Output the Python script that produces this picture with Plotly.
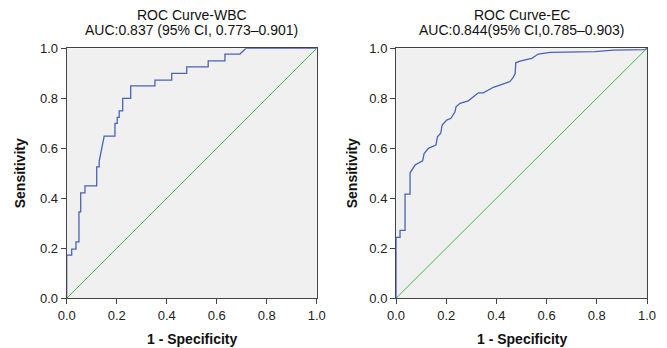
import plotly.graph_objects as go

# ---- data ----
wbc_fpr = [0, 0, 0.02, 0.02, 0.037, 0.037, 0.049, 0.049, 0.056, 0.056, 0.073, 0.073, 0.12, 0.12,
           0.13, 0.13, 0.15, 0.193, 0.193, 0.202, 0.202, 0.21, 0.21, 0.224, 0.224, 0.256, 0.256,
           0.353, 0.353, 0.42, 0.42, 0.48, 0.48, 0.566, 0.566, 0.633, 0.633, 0.693, 0.717, 1.0]
wbc_tpr = [0, 0.173, 0.173, 0.197, 0.197, 0.226, 0.226, 0.346, 0.346, 0.422, 0.422, 0.45, 0.45, 0.526,
           0.526, 0.549, 0.649, 0.649, 0.70, 0.70, 0.724, 0.724, 0.75, 0.75, 0.80, 0.80, 0.85,
           0.85, 0.873, 0.873, 0.90, 0.90, 0.926, 0.926, 0.95, 0.95, 0.977, 0.977, 1.0, 1.0]

ec_fpr = [0, 0, 0.016, 0.016, 0.036, 0.036, 0.056, 0.056, 0.076, 0.106, 0.112, 0.129, 0.159, 0.165,
          0.178, 0.184, 0.202, 0.219, 0.235, 0.239, 0.255, 0.288, 0.328, 0.348, 0.388, 0.454,
          0.467, 0.475, 0.477, 0.494, 0.541, 0.567, 0.614, 0.793, 0.866, 0.99, 1.0]
ec_tpr = [0, 0.244, 0.244, 0.272, 0.272, 0.417, 0.417, 0.502, 0.533, 0.55, 0.579, 0.60, 0.613, 0.646,
          0.66, 0.693, 0.713, 0.72, 0.746, 0.766, 0.78, 0.79, 0.822, 0.822, 0.844, 0.867,
          0.884, 0.90, 0.942, 0.949, 0.96, 0.977, 0.984, 0.987, 0.993, 0.995, 1.0]

ref_line = [0, 1]
tick_vals = [0, 0.2, 0.4, 0.6, 0.8, 1.0]
tick_text = ["0.0", "0.2", "0.4", "0.6", "0.8", "1.0"]

titles = [("ROC Curve-WBC", "AUC:0.837 (95% CI, 0.773\u20130.901)"),
          ("ROC Curve-EC", "AUC:0.844(95% CI,0.785\u20130.903)")]

BLUE = "#4a63b5"
GREEN = "#3dbb4a"
FONT = "Liberation Sans, Arial, sans-serif"

fig = go.Figure()
panels = [(wbc_fpr, wbc_tpr, "x", "y"), (ec_fpr, ec_tpr, "x2", "y2")]
for fx, ty, xa, ya in panels:
    fig.add_trace(go.Scatter(x=ref_line, y=ref_line, mode="lines", xaxis=xa, yaxis=ya,
                             line=dict(color=GREEN, width=1), showlegend=False, hoverinfo="skip"))
    fig.add_trace(go.Scatter(x=fx, y=ty, mode="lines", xaxis=xa, yaxis=ya,
                             line=dict(color=BLUE, width=1.3), showlegend=False))

# page body adds an 8px margin; lay the figure out in page pixels minus that offset
OFF = 8
W, H = 667 - OFF, 348 - OFF


def px(x):
    return (x - OFF) / W


def py(y):
    return 1 - (y - OFF) / H


xdoms = [[px(66.7), px(316.7)], [px(396), px(647)]]
ydom = [py(298.3), py(48.3)]

axis_common = dict(range=[0, 1], tickvals=tick_vals, ticktext=tick_text, showgrid=False,
                   zeroline=False, showline=True, linecolor="#444", linewidth=1, mirror=True,
                   ticks="outside", ticklen=5, tickcolor="#444", automargin=False,
                   tickfont=dict(family=FONT, size=13, color="#222"))

layout = dict(width=W, height=H, margin=dict(l=0, r=0, t=0, b=0, pad=0, autoexpand=False),
              template="none",
              paper_bgcolor="white", plot_bgcolor="#f0f0f0",
              font=dict(family=FONT, color="#111"))
for i, xd in enumerate(xdoms):
    sfx = "" if i == 0 else "2"
    layout["xaxis" + sfx] = dict(domain=xd, anchor="y" + sfx, **axis_common)
    layout["yaxis" + sfx] = dict(domain=ydom, anchor="x" + sfx, **axis_common)
fig.update_layout(**layout)

annotations = []
centers = [(xdoms[0][0] + xdoms[0][1]) / 2, (xdoms[1][0] + xdoms[1][1]) / 2]
ylab_x = [px(20), px(352)]
for i, (t1, t2) in enumerate(titles):
    annotations.append(dict(text=t1, x=centers[i], y=py(15), xref="paper", yref="paper",
                            showarrow=False, xanchor="center", yanchor="middle",
                            font=dict(family=FONT, size=14, color="#111")))
    annotations.append(dict(text=t2, x=centers[i], y=py(30), xref="paper", yref="paper",
                            showarrow=False, xanchor="center", yanchor="middle",
                            font=dict(family=FONT, size=14, color="#111")))
    annotations.append(dict(text="<b>1 - Specificity</b>", x=centers[i], y=py(339),
                            xref="paper", yref="paper", showarrow=False, xanchor="center",
                            yanchor="middle", font=dict(family=FONT, size=14, color="#111")))
    annotations.append(dict(text="<b>Sensitivity</b>", x=ylab_x[i], y=(ydom[0] + ydom[1]) / 2,
                            xref="paper", yref="paper", showarrow=False, textangle=-90,
                            xanchor="center", yanchor="middle",
                            font=dict(family=FONT, size=14, color="#111")))
fig.update_layout(annotations=annotations)

fig.write_html("out.html")
